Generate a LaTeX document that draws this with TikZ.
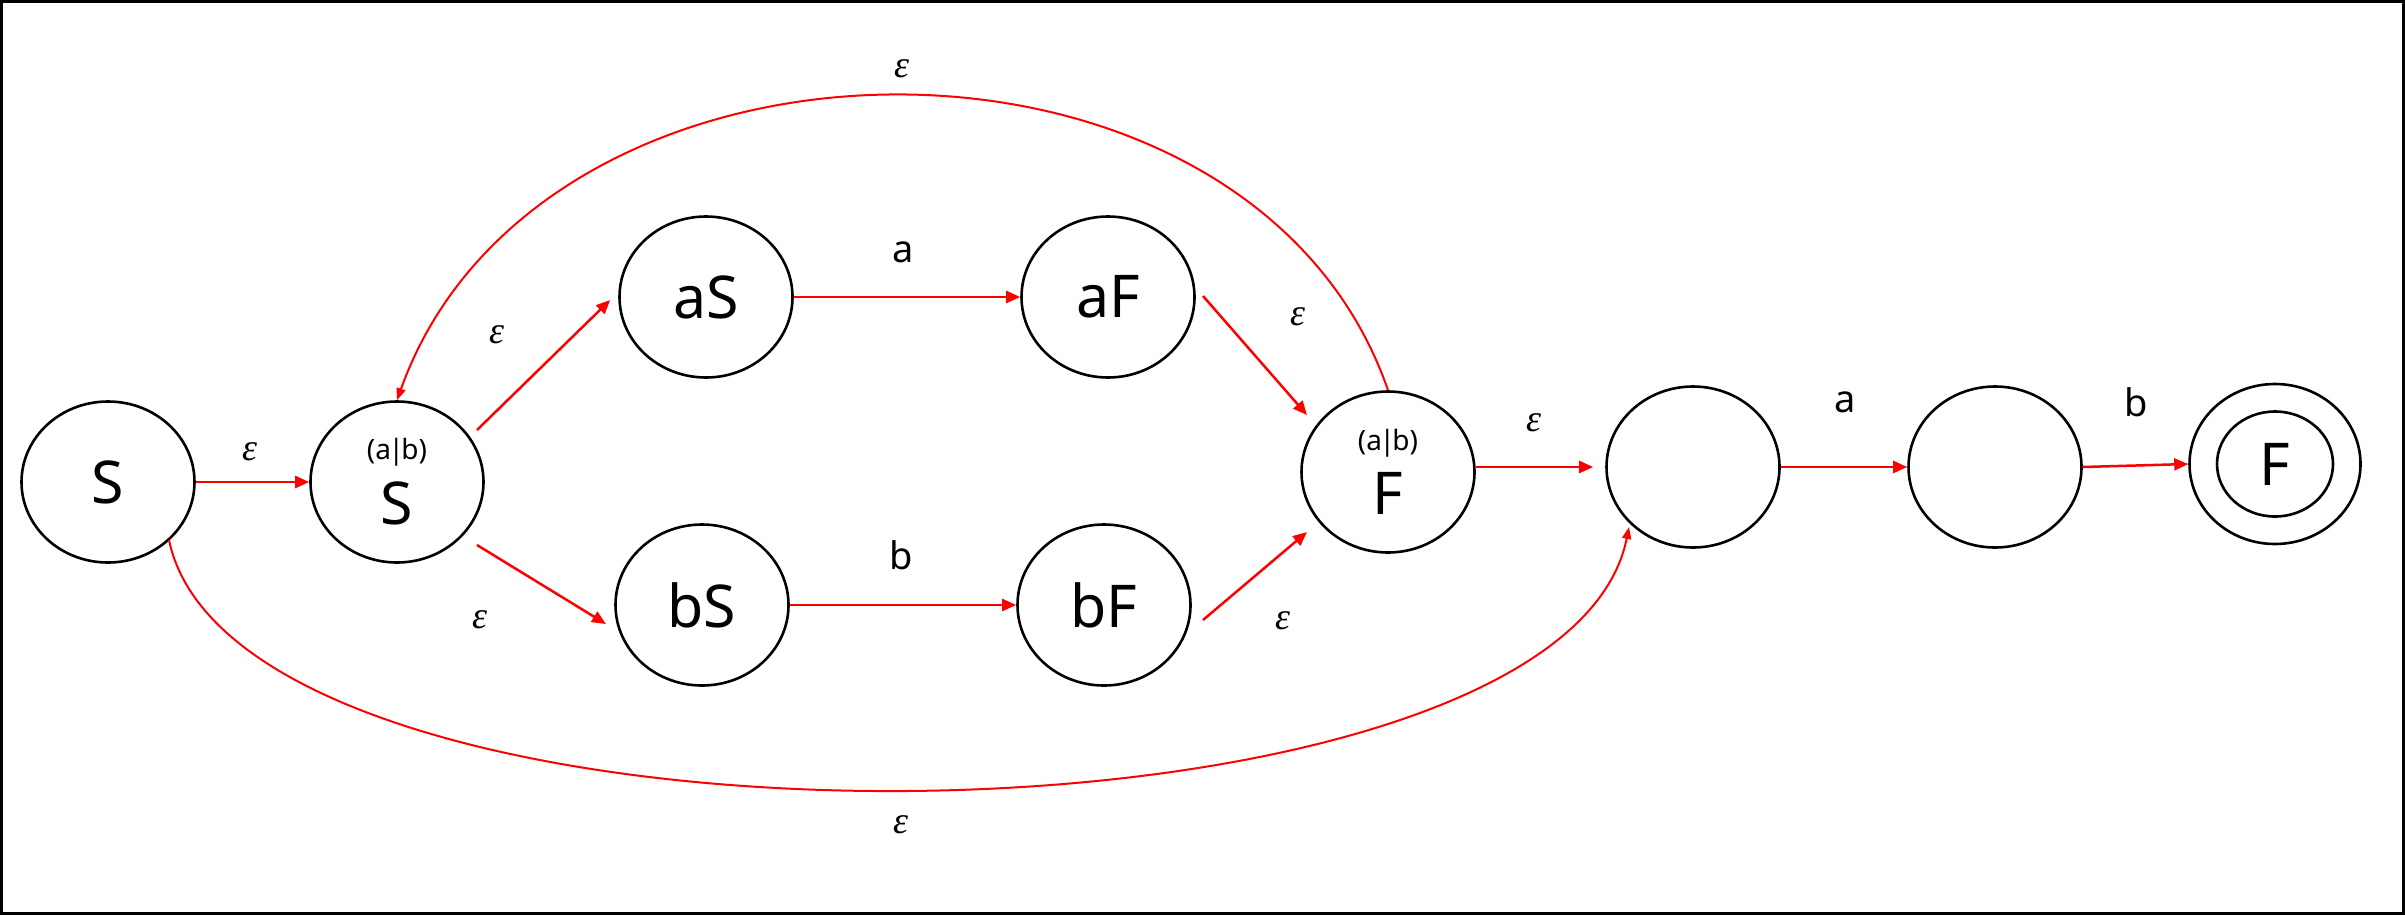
\documentclass[tikz,border=0pt]{standalone}
\usepackage{fontspec}
\setmainfont{Noto Sans}
\newfontfamily\epsfont{Liberation Serif}
\usetikzlibrary{shapes.geometric,arrows.meta,calc}
\newcommand{\eps}{{\epsfont\itshape ε}}
\newcommand{\ab}{(a\kern-2.5bp|\kern-2.5bp b)}
\begin{document}
\begin{tikzpicture}[x=1bp,y=-1bp,
  state/.style={ellipse,draw=black,line width=2.6bp,minimum width=173bp,minimum height=161bp,inner sep=0pt},
  innerst/.style={ellipse,draw=black,line width=2.6bp,minimum width=116bp,minimum height=105bp,inner sep=0pt},
  big/.style={font=\fontsize{59bp}{70bp}\selectfont,inner sep=0pt},
  small/.style={font=\fontsize{28bp}{33bp}\selectfont,inner sep=0pt},
  lbl/.style={font=\fontsize{38bp}{45bp}\selectfont,inner sep=0pt},
  arr/.style={draw=red,line width=2.5bp,-{Triangle[length=14bp,width=12bp]}},
  curvearr/.style={draw=red,line width=2bp,-{Triangle[length=12bp,width=9bp]}},
]
\useasboundingbox (0,0) rectangle (2405,915);
\draw[line width=3bp] (1.5,1.5) rectangle (2403.5,913.5);

% states
\node[state,big] (s1) at (108,482) {S};
\node[state] (s2) at (397,482) {};
\node[small] (s2t) at ($(s2)+(0,-30)$) {\ab};
\node[big] (s2s) at ($(s2)+(0,21)$) {S};
\node[state,big] (as) at (706,297) {aS};
\node[state,big] (af) at (1108,297) {aF};
\node[state,big] (bs) at (702,605) {bS};
\node[state,big] (bf) at (1104,605) {bF};
\node[state] (f) at (1388,472) {};
\node[small] (ft) at ($(f)+(0,-29)$) {\ab};
\node[big] (fs) at ($(f)+(0,21)$) {F};
\node[state] (e1) at (1693,467) {};
\node[state] (e2) at (1995,467) {};
\node[state,minimum width=171bp,minimum height=160bp] (fin) at (2275,464) {};
\node[innerst,big] (fini) at (2275,464) {F};

% straight transitions
\draw[arr] (s1.east) -- (s2.west);
\draw[arr] ([shift={(80,-52)}]s2.center) -- ([xshift=-8bp,yshift=-3bp]as.west);
\draw[arr] (as.east) -- (af.west);
\draw[arr] ([shift={(80,63)}]s2.center) -- ([shift={(-96,19)}]bs.center);
\draw[arr] (bs.east) -- (bf.west);
\draw[arr] ([shift={(95,-1)}]af.center) -- ([shift={(-81,-57)}]f.center);
\draw[arr] ([shift={(99,15)}]bf.center) -- ([shift={(-81,60)}]f.center);
\draw[arr] ([shift={(88,-5)}]f.center) -- ([xshift=-12bp]e1.west);
\draw[arr] (e1.east) -- (e2.west);
\draw[arr] (e2.east) -- (fin.west);

% curved transitions
\draw[curvearr] (f.north) .. controls (1250,-8) and (540,0) .. (s2.north);
\draw[curvearr] ([shift={(61,58)}]s1.center) .. controls (240,880) and (1560,870) .. ([shift={(-64,60)}]e1.center);

% labels
\node[lbl] (l1) at (250,452) {\eps};
\node[lbl] (l2) at (497,335) {\eps};
\node[lbl] (l3) at (480,620) {\eps};
\node[lbl] (l4) at (903,252) {a};
\node[lbl] (l5) at (901,555) {b};
\node[lbl] (l6) at (1298,317) {\eps};
\node[lbl] (l7) at (1283,621) {\eps};
\node[lbl] (l8) at (1534,423) {\eps};
\node[lbl] (l9) at (1845,402) {a};
\node[lbl] (l10) at (2136,402) {b};
\node[lbl] (l11) at (902,69) {\eps};
\node[lbl] (l12) at (901,825) {\eps};
\end{tikzpicture}
\end{document}
